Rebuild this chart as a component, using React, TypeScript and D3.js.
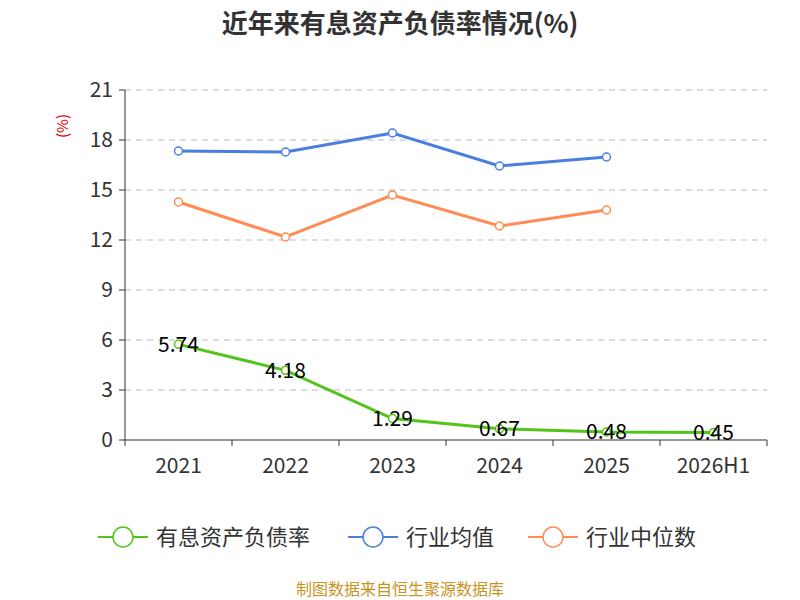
import React from "react";
import * as d3 from "d3";

const categories = ["2021", "2022", "2023", "2024", "2025", "2026H1"];
const debtRatio = [5.74, 4.18, 1.29, 0.67, 0.48, 0.45];
const industryAvg = [17.34, 17.28, 18.42, 16.44, 16.98];
const industryMedian = [14.28, 12.18, 14.7, 12.84, 13.8];
const yTicks = [0, 3, 6, 9, 12, 15, 18, 21];

export default function App() {
  const W = 800, H = 600;
  const left = 125, right = 767, top = 90, bottom = 440;
  const x = d3.scaleBand<string>().domain(categories).range([left, right]);
  const y = d3.scaleLinear().domain([0, 21]).range([bottom, top]);
  const cx = (i: number) => (x(categories[i]) as number) + x.bandwidth() / 2;
  const line = d3.line<number>().x((_, i) => cx(i)).y((d) => y(d));
  const series = [
    { name: "有息资产负债率", data: debtRatio, color: "#52c41a" },
    { name: "行业均值", data: industryAvg, color: "#4a7fe0" },
    { name: "行业中位数", data: industryMedian, color: "#ff8c55" },
  ];
  const font = "'Noto Sans CJK SC', 'Noto Sans', sans-serif";
  return (
    <svg width={W} height={H} style={{ position: "absolute", left: 0, top: 0, fontFamily: font }}>
      <rect width={W} height={H} fill="#fff" />
      <text x={400} y={33} textAnchor="middle" fontSize={26} fontWeight="bold" fill="#333">近年来有息资产负债率情况(%)</text>
      <text transform="translate(68,126) rotate(-90)" textAnchor="middle" fontSize={15} fill="#e00000">(%)</text>
      {yTicks.map((t) => (
        <g key={t}>
          {t > 0 && <line x1={left} x2={right} y1={y(t)} y2={y(t)} stroke="#bbb" strokeDasharray="6,5" />}
          <line x1={left - 6} x2={left} y1={y(t)} y2={y(t)} stroke="#333" />
          <text x={left - 12} y={y(t)} dy="0.35em" textAnchor="end" fontSize={21} fill="#333">{t}</text>
        </g>
      ))}
      <line x1={left} x2={left} y1={top} y2={bottom} stroke="#333" />
      <line x1={left} x2={right} y1={bottom} y2={bottom} stroke="#333" />
      {categories.map((c, i) => (
        <g key={c}>
          <line x1={(x(c) as number)} x2={(x(c) as number)} y1={bottom} y2={bottom + 6} stroke="#333" />
          <text x={cx(i)} y={473} textAnchor="middle" fontSize={21} fill="#333">{c}</text>
        </g>
      ))}
      <line x1={right} x2={right} y1={bottom} y2={bottom + 6} stroke="#333" />
      {series.map((s) => (
        <g key={s.name}>
          <path d={line(s.data) || ""} fill="none" stroke={s.color} strokeWidth={3} />
          {s.data.map((d, i) => (
            <circle key={i} cx={cx(i)} cy={y(d)} r={4} fill="#fff" stroke={s.color} strokeWidth={1.5} />
          ))}
        </g>
      ))}
      {debtRatio.map((d, i) => (
        <text key={i} x={cx(i)} y={y(d)} dy="0.35em" textAnchor="middle" fontSize={21} fill="#000">{d.toFixed(2)}</text>
      ))}
      {series.map((s, i) => {
        const lx = [98, 348, 528][i];
        return (
          <g key={s.name}>
            <line x1={lx} x2={lx + 50} y1={537} y2={537} stroke={s.color} strokeWidth={2} />
            <circle cx={lx + 25} cy={537} r={10} fill="#fff" stroke={s.color} strokeWidth={1.5} />
            <text x={lx + 58} y={537} dy="0.35em" fontSize={22} fill="#333">{s.name}</text>
          </g>
        );
      })}
      <text x={400} y={595} textAnchor="middle" fontSize={16} fill="#c8941e">制图数据来自恒生聚源数据库</text>
    </svg>
  );
}
